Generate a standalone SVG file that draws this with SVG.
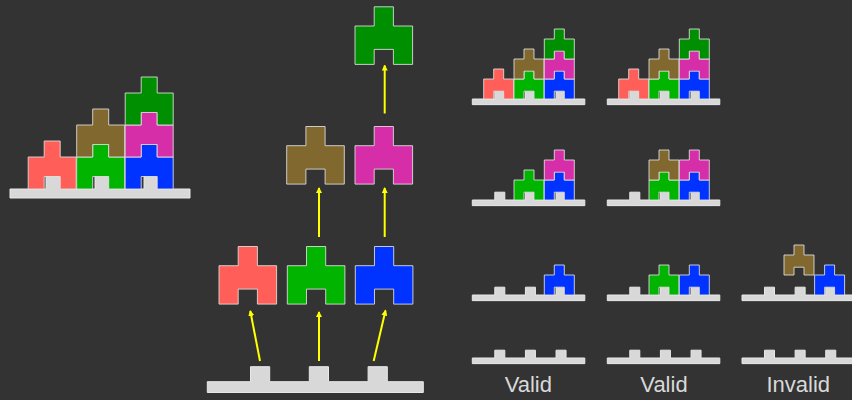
<svg xmlns="http://www.w3.org/2000/svg" xmlns:xlink="http://www.w3.org/1999/xlink" width="852" height="400" viewBox="0 0 852 400">
<style>
.pc{stroke:#e2e2e2;stroke-opacity:0.85;stroke-width:1;vector-effect:non-scaling-stroke;stroke-linejoin:miter}
.bs{fill:#d8d8d8;stroke:#e8e8e8;stroke-width:1;vector-effect:non-scaling-stroke}
.r{fill:#ff5f58}.g{fill:#00b400}.b{fill:#0033ff}.br{fill:#80682e}.m{fill:#d52ea8}.dg{fill:#008f00}
.lbl{font-family:"Liberation Sans",Arial,sans-serif;font-size:22px;fill:#d9d9d9;text-anchor:middle}
.ar{stroke:#ffff00;stroke-width:2;fill:none;marker-end:url(#ah)}
</style>
<defs>
<path id="piece" class="pc" d="M0,0H16V-16H32V0H48V32H32V19.5H16V32H0Z"/>
<path id="base" class="bs" d="M0,0H36V-12.5H52V0H85V-12.5H101V0H134V-12.5H150V0H180V9H0Z"/>
<marker id="ah" viewBox="0 0 6 6" refX="5" refY="3" markerWidth="3" markerHeight="3" orient="auto">
<path d="M0,0L6,3L0,6Z" fill="#ffff00"/>
</marker>
</defs>
<rect width="852" height="400" fill="#333333"/>

<g id="left-stack">
<use href="#base" transform="translate(10,189)"/>
<use href="#piece" class="r" transform="translate(28.2,157)"/>
<use href="#piece" class="g" transform="translate(76.7,157)"/>
<use href="#piece" class="b" transform="translate(125.2,157)"/>
<use href="#piece" class="br" transform="translate(76.7,125)"/>
<use href="#piece" class="m" transform="translate(125.2,125)"/>
<use href="#piece" class="dg" transform="translate(125.2,93)"/>
</g>

<g id="dependency-graph">
<g id="mid-base"><use href="#base" transform="translate(207.3,381.7) scale(1.2)"/></g>
<g id="mid-red"><use href="#piece" class="r" transform="translate(219,265.7) scale(1.2)"/></g>
<g id="mid-green"><use href="#piece" class="g" transform="translate(287.3,265.7) scale(1.2)"/></g>
<g id="mid-blue"><use href="#piece" class="b" transform="translate(355.3,265.7) scale(1.2)"/></g>
<g id="mid-brown"><use href="#piece" class="br" transform="translate(286.7,145.7) scale(1.2)"/></g>
<g id="mid-magenta"><use href="#piece" class="m" transform="translate(355,145.7) scale(1.2)"/></g>
<g id="mid-darkgreen"><use href="#piece" class="dg" transform="translate(355,26) scale(1.2)"/></g>
<g id="connectors">
<line class="ar" x1="260" y1="361" x2="250.3" y2="311"/>
<line class="ar" x1="319" y1="361" x2="319" y2="312"/>
<line class="ar" x1="373.7" y1="361" x2="385.5" y2="310.5"/>
<line class="ar" x1="319" y1="237" x2="319" y2="188"/>
<line class="ar" x1="384.7" y1="237" x2="384.7" y2="188"/>
<line class="ar" x1="384.7" y1="113.5" x2="384.7" y2="65.5"/>
</g>
</g>

<g id="valid-1">
<use href="#base" transform="translate(472.3,99) scale(0.625)"/>
<use href="#piece" class="r" transform="translate(483.7,79) scale(0.625)"/>
<use href="#piece" class="g" transform="translate(514,79) scale(0.625)"/>
<use href="#piece" class="b" transform="translate(544.3,79) scale(0.625)"/>
<use href="#piece" class="br" transform="translate(514,59) scale(0.625)"/>
<use href="#piece" class="m" transform="translate(544.3,59) scale(0.625)"/>
<use href="#piece" class="dg" transform="translate(544.3,39) scale(0.625)"/>

<use href="#base" transform="translate(472.3,200) scale(0.625)"/>
<use href="#piece" class="g" transform="translate(514,180) scale(0.625)"/>
<use href="#piece" class="b" transform="translate(544.3,180) scale(0.625)"/>
<use href="#piece" class="m" transform="translate(544.3,160) scale(0.625)"/>

<use href="#base" transform="translate(472.3,295) scale(0.625)"/>
<use href="#piece" class="b" transform="translate(544.3,275) scale(0.625)"/>

<use href="#base" transform="translate(472.3,358) scale(0.625)"/>
<text class="lbl" x="528.3" y="391.7">Valid</text>
</g>

<g id="valid-2">
<use href="#base" transform="translate(607.3,99) scale(0.625)"/>
<use href="#piece" class="r" transform="translate(618.7,79) scale(0.625)"/>
<use href="#piece" class="g" transform="translate(649,79) scale(0.625)"/>
<use href="#piece" class="b" transform="translate(679.3,79) scale(0.625)"/>
<use href="#piece" class="br" transform="translate(649,59) scale(0.625)"/>
<use href="#piece" class="m" transform="translate(679.3,59) scale(0.625)"/>
<use href="#piece" class="dg" transform="translate(679.3,39) scale(0.625)"/>

<use href="#base" transform="translate(607.3,200) scale(0.625)"/>
<use href="#piece" class="g" transform="translate(649,180) scale(0.625)"/>
<use href="#piece" class="b" transform="translate(679.3,180) scale(0.625)"/>
<use href="#piece" class="br" transform="translate(649,160) scale(0.625)"/>
<use href="#piece" class="m" transform="translate(679.3,160) scale(0.625)"/>

<use href="#base" transform="translate(607.3,295) scale(0.625)"/>
<use href="#piece" class="g" transform="translate(649,275) scale(0.625)"/>
<use href="#piece" class="b" transform="translate(679.3,275) scale(0.625)"/>

<use href="#base" transform="translate(607.3,358) scale(0.625)"/>
<text class="lbl" x="664" y="391.7">Valid</text>
</g>

<g id="invalid">
<use href="#base" transform="translate(742,295) scale(0.625)"/>
<use href="#piece" class="b" transform="translate(814.6,275) scale(0.625)"/>
<use href="#piece" class="br" transform="translate(784,255) scale(0.625)"/>
<use href="#base" transform="translate(742,358) scale(0.625)"/>
<text class="lbl" x="798.3" y="391.7">Invalid</text>
</g>
</svg>
